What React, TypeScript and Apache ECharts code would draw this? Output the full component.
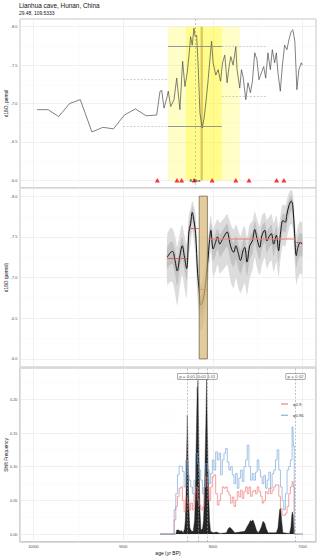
import React, { useEffect, useRef } from 'react';
import * as echarts from 'echarts';

const chartTitle = 'Lianhua cave, Hunan, China';
const chartSubtitle = '29.48, 109.5333';

// ---------- Panel 1: raw record ----------
const rawAges = [9959, 9837, 9719, 9597, 9478, 9348, 9226, 9108, 8986, 8863, 8744, 8626,
  8589, 8570, 8544, 8514, 8497, 8470, 8433, 8403, 8367, 8337, 8311, 8286, 8263, 8248, 8230, 8211,
  8197, 8181, 8163, 8144, 8119, 8100, 8078, 8052, 8033, 8014, 7997, 7967, 7941, 7914, 7892, 7867,
  7841, 7819, 7800, 7774, 7744, 7730, 7700, 7681, 7663, 7633, 7608, 7581, 7559, 7533, 7508, 7486,
  7459, 7433, 7411, 7386, 7359, 7337, 7311, 7292, 7274, 7248, 7226, 7200, 7174, 7152, 7126, 7108,
  7086, 7063, 7041, 7014, 7003];
const rawD18O = [-6.92, -6.92, -6.83, -7.0, -7.05, -6.63, -6.69, -6.67, -6.85, -6.93, -6.84, -6.85,
  -7.16, -7.17, -6.94, -7.07, -7.16, -6.96, -7.05, -7.33, -6.92, -7.55, -7.22, -7.4, -7.66, -7.87, -7.76, -7.98,
  -7.87, -7.89, -7.48, -6.88, -6.68, -6.79, -7.01, -7.31, -7.57, -7.81, -7.53, -7.37, -7.44, -7.29, -7.53, -7.63,
  -7.27, -7.48, -7.61, -7.5, -7.74, -7.44, -7.2, -7.44, -7.35, -7.05, -7.27, -7.14, -7.29, -7.66, -7.57, -7.31,
  -7.4, -7.48, -7.33, -7.66, -7.44, -7.7, -7.53, -7.66, -7.4, -7.16, -7.48, -7.76, -7.7, -7.83, -7.94, -7.96,
  -7.81, -7.18, -7.44, -7.53, -7.5];
const dateAges = [8619, 8400, 8348, 8208, 8008, 7744, 7597, 7289, 7208];
const dateLevel = -6.0;
const eventAge = 8200;
const eventLabel = '8.2ka';
const windowStarts = [8500, 8300, 8137];
const windowEnds = [7700, 7900, 8111];
const envStart = [9000, 9000, 8500, 8500, 7900, 7900];
const envEnd = [8500, 8500, 7900, 7900, 7400, 7400];
const envLevel = [-7.32, -6.7, -7.75, -6.7, -7.75, -7.09];
const envSolid = [false, false, true, true, false, false];

// ---------- Panel 2: smoothed ensemble ----------
const smoothAges = [8508, 8470, 8448, 8422, 8397, 8367, 8341, 8319, 8292, 8267, 8248, 8230, 8211, 8192, 8170, 8152,
  8137, 8114, 8089, 8070, 8052, 8041, 8022, 7997, 7970, 7948, 7922, 7897, 7867, 7841, 7811, 7792, 7767, 7744,
  7719, 7692, 7663, 7644, 7619, 7589, 7559, 7533, 7508, 7478, 7452, 7422, 7397, 7374, 7348, 7322, 7292, 7267,
  7244, 7219, 7192, 7174, 7152, 7126, 7108, 7089, 7070, 7052, 7026, 7003];
const smoothD18O = [-7.25, -7.31, -7.32, -7.21, -7.08, -7.27, -7.39, -7.27, -7.11, -7.56, -7.66, -7.8, -7.7, -7.54,
  -7.05, -6.85, -6.66, -6.7, -6.85, -7.05, -7.25, -7.41, -7.58, -7.35, -7.43, -7.5, -7.41, -7.46, -7.52, -7.56,
  -7.43, -7.35, -7.31, -7.39, -7.31, -7.21, -7.33, -7.37, -7.19, -7.39, -7.45, -7.59, -7.48, -7.37, -7.52, -7.58,
  -7.45, -7.5, -7.54, -7.41, -7.52, -7.33, -7.56, -7.7, -7.68, -7.78, -7.88, -7.94, -7.88, -7.54, -7.27, -7.37,
  -7.43, -7.41];
const outerUp = [0.28, 0.3, 0.28, 0.3, 0.3, 0.28, 0.26, 0.26, 0.3, 0.22, 0.18, 0.14, 0.18, 0.22, 0.25, 0.25, 0.25,
  0.25, 0.25, 0.25, 0.22, 0.2, 0.18, 0.24, 0.24, 0.22, 0.26, 0.24, 0.22, 0.22, 0.26, 0.28, 0.28, 0.26, 0.28, 0.3,
  0.28, 0.26, 0.3, 0.26, 0.24, 0.22, 0.24, 0.26, 0.24, 0.22, 0.26, 0.24, 0.24, 0.26, 0.24, 0.28, 0.22, 0.2, 0.2,
  0.18, 0.16, 0.14, 0.16, 0.22, 0.26, 0.26, 0.26, 0.26];
const outerDown = [0.34, 0.36, 0.38, 0.4, 0.42, 0.38, 0.36, 0.38, 0.36, 0.28, 0.26, 0.23, 0.26, 0.3, 0.32, 0.32, 0.32,
  0.32, 0.32, 0.32, 0.3, 0.28, 0.26, 0.34, 0.36, 0.34, 0.36, 0.38, 0.4, 0.4, 0.42, 0.44, 0.44, 0.4, 0.42, 0.4, 0.44,
  0.44, 0.4, 0.4, 0.36, 0.34, 0.36, 0.34, 0.36, 0.34, 0.34, 0.33, 0.33, 0.34, 0.33, 0.32, 0.32, 0.3, 0.3, 0.3, 0.28,
  0.28, 0.28, 0.32, 0.36, 0.38, 0.38, 0.38];
const innerUp = [0.12, 0.13, 0.12, 0.13, 0.13, 0.12, 0.11, 0.11, 0.13, 0.1, 0.08, 0.07, 0.08, 0.1, 0.11, 0.11, 0.11,
  0.11, 0.11, 0.11, 0.1, 0.09, 0.08, 0.11, 0.11, 0.1, 0.12, 0.11, 0.1, 0.1, 0.12, 0.12, 0.12, 0.12, 0.12, 0.13,
  0.12, 0.12, 0.13, 0.12, 0.11, 0.1, 0.11, 0.12, 0.11, 0.1, 0.12, 0.11, 0.11, 0.12, 0.11, 0.12, 0.1, 0.09, 0.09,
  0.08, 0.07, 0.07, 0.07, 0.1, 0.12, 0.12, 0.12, 0.12];
const innerDown = [0.14, 0.15, 0.16, 0.17, 0.18, 0.16, 0.15, 0.16, 0.15, 0.11, 0.1, 0.09, 0.1, 0.12, 0.13, 0.13, 0.13,
  0.13, 0.13, 0.13, 0.12, 0.11, 0.1, 0.15, 0.16, 0.15, 0.16, 0.17, 0.18, 0.18, 0.18, 0.18, 0.18, 0.17, 0.18, 0.17,
  0.18, 0.18, 0.17, 0.17, 0.16, 0.15, 0.16, 0.15, 0.16, 0.15, 0.15, 0.14, 0.14, 0.15, 0.14, 0.14, 0.14, 0.13, 0.13,
  0.13, 0.12, 0.12, 0.12, 0.14, 0.15, 0.16, 0.16, 0.16];
const segStart = [8508, 8270, 8155, 8057, 7070];
const segEnd = [8290, 8158, 8063, 7080, 7003];
const segLevel = [-7.24, -7.61, -6.85, -7.48, -7.43];
const eventRectStart = [8152];
const eventRectEnd = [8061];

// ---------- Panel 3: shift frequency ----------
const freqAges = [8589, 8441, 8422, 8404, 8385, 8367, 8348, 8330, 8311, 8293, 8274, 8256, 8237, 8219, 8200, 8182,
  8163, 8144, 8126, 8107, 8089, 8070, 8052, 8033, 8015, 7996, 7978, 7959, 7941, 7922, 7904, 7885, 7867, 7848, 7830,
  7811, 7793, 7774, 7756, 7737, 7719, 7700, 7681, 7663, 7644, 7626, 7607, 7589, 7570, 7552, 7533, 7515, 7496, 7478,
  7459, 7441, 7422, 7404, 7385, 7367, 7348, 7330, 7311, 7293, 7274, 7256, 7237, 7219, 7200, 7182, 7163, 7145, 7126,
  7107, 7096, 7089, 6996];
const q95 = [0, 0, 0.036, 0.06, 0.088, 0.101, 0.1, 0.093, 0.07, 0.11, 0.088, 0.08, 0.07, 0.06, 0.08, 0.12, 0.105,
  0.095, 0.08, 0.06, 0.07, 0.105, 0.095, 0.075, 0.09, 0.11, 0.095, 0.122, 0.11, 0.12, 0.088, 0.11, 0.12, 0.127,
  0.107, 0.095, 0.1, 0.088, 0.075, 0.09, 0.068, 0.083, 0.095, 0.078, 0.1, 0.11, 0.132, 0.1, 0.08, 0.09, 0.08, 0.092,
  0.11, 0.095, 0.085, 0.075, 0.087, 0.068, 0.08, 0.092, 0.068, 0.09, 0.095, 0.11, 0.125, 0.095, 0.07, 0.05, 0.036,
  0.06, 0.095, 0.1, 0.11, 0.159, 0.13, 0, 0];
const q90 = [0, 0, 0.021, 0.041, 0.056, 0.068, 0.07, 0.05, 0.033, 0.055, 0.046, 0.036, 0.046, 0.036, 0.06, 0.07,
  0.05, 0.043, 0.036, 0.04, 0.07, 0.085, 0.07, 0.05, 0.07, 0.085, 0.088, 0.06, 0.043, 0.05, 0.06, 0.07, 0.068, 0.07,
  0.063, 0.058, 0.046, 0.055, 0.041, 0.05, 0.063, 0.055, 0.065, 0.053, 0.063, 0.07, 0.06, 0.07, 0.056, 0.063, 0.065,
  0.06, 0.07, 0.063, 0.056, 0.046, 0.05, 0.063, 0.06, 0.068, 0.06, 0.065, 0.07, 0.073, 0.073, 0.056, 0.038, 0.028,
  0.028, 0.031, 0.041, 0.06, 0.07, 0.078, 0.07, 0, 0];
const histAges = [8589, 8411, 8404, 8378, 8367, 8348, 8330, 8315, 8307, 8300, 8293, 8285, 8281, 8278, 8270, 8263,
  8256, 8237, 8219, 8204, 8196, 8189, 8182, 8174, 8170, 8167, 8159, 8152, 8144, 8133, 8115, 8104, 8096, 8089, 8082,
  8078, 8070, 8067, 8063, 8056, 8052, 8044, 8037, 8026, 7996, 7959, 7922, 7848, 7830, 7811, 7793, 7774, 7756, 7700,
  7644, 7618, 7596, 7581, 7570, 7552, 7533, 7515, 7496, 7478, 7459, 7441, 7422, 7404, 7385, 7293, 7274, 7263, 7256,
  7244, 7233, 7219, 7145, 7130, 7122, 7115, 7104, 7096, 7089];
const histFreq = [0, 0, 0.006, 0.006, 0.004, 0.005, 0.002, 0.008, 0.02, 0.05, 0.11, 0.176, 0.15, 0.13, 0.06, 0.026,
  0.009, 0.004, 0.004, 0.02, 0.05, 0.11, 0.16, 0.218, 0.2, 0.228, 0.16, 0.095, 0.036, 0.006, 0.008, 0.02, 0.05,
  0.09, 0.14, 0.164, 0.23, 0.2, 0.164, 0.12, 0.09, 0.05, 0.02, 0.004, 0.002, 0.003, 0.001, 0.002, 0.008, 0.01,
  0.008, 0.005, 0.002, 0.003, 0.004, 0.011, 0.016, 0.02, 0.019, 0.021, 0.014, 0.006, 0.002, 0.005, 0.011, 0.019,
  0.016, 0.008, 0.002, 0.002, 0.009, 0.025, 0.036, 0.038, 0.02, 0.002, 0.001, 0.01, 0.025, 0.033, 0.028, 0.01, 0];
const changeAges = [8286, 8163, 8059, 7078];
const changeP = ['0.01', '0.01', '0.01', '0.02'];
const pLabelLevel = 0.234;

const FONT = 'Liberation Sans, Arial, sans-serif';
const Q90_COLOR = 'rgba(240,110,110,0.8)';
const Q95_COLOR = 'rgba(110,160,215,0.8)';

function xAxisFor(gridIndex: number, showLabels: boolean): any {
  return {
    type: 'value', gridIndex, inverse: true, min: 6850, max: 10150, splitNumber: 3,
    axisLine: { show: false }, axisTick: { show: false },
    axisLabel: {
      show: showLabels, fontSize: 3.8, color: '#4d4d4d', margin: 2.5, fontFamily: FONT,
      showMinLabel: false, showMaxLabel: false,
      formatter: (v: number) => (Math.abs(v % 1000) < 1e-6 ? String(v) : ''),
    },
    splitLine: { show: true, lineStyle: { color: '#e6e6e6', width: 0.6 } },
    minorTick: { show: false, splitNumber: 2 },
    minorSplitLine: { show: true, lineStyle: { color: '#f3f3f3', width: 0.4 } },
    name: showLabels ? 'age (yr BP)' : '',
    nameLocation: 'middle', nameGap: 8.5, nameMoveOverlap: false,
    nameTextStyle: { fontSize: 5, color: '#111', fontFamily: FONT },
  };
}

function yAxisFor(gridIndex: number, min: number, max: number, step: number, splitNumber: number, inverse: boolean, name: string, digits: number): any {
  return {
    type: 'value', gridIndex, inverse, min, max, splitNumber,
    axisLine: { show: false }, axisTick: { show: false },
    axisLabel: {
      fontSize: 3.9, color: '#4d4d4d', margin: 2.5, fontFamily: FONT,
      showMinLabel: false, showMaxLabel: false,
      formatter: (v: number) => {
        const k = v / step;
        return Math.abs(k - Math.round(k)) < 1e-6 ? v.toFixed(digits) : '';
      },
    },
    splitLine: { show: true, lineStyle: { color: '#e6e6e6', width: 0.6 } },
    minorTick: { show: false, splitNumber: 2 },
    minorSplitLine: { show: true, lineStyle: { color: '#f3f3f3', width: 0.4 } },
    name, nameLocation: 'middle', nameGap: 11.5, nameMoveOverlap: false,
    nameTextStyle: { fontSize: 4.8, color: '#111', fontFamily: FONT },
  };
}

function rectSeries(xi: number, yi: number, starts: number[], ends: number[], top: number, bottom: number,
  fills: string[], strokes: string[] | null, z: number): any {
  return {
    type: 'custom', xAxisIndex: xi, yAxisIndex: yi, z, silent: true, clip: true,
    data: starts.map((s, i) => [s, ends[i], top, bottom]),
    encode: { x: [0, 1], y: [2, 3] },
    renderItem: (params: any, api: any) => {
      const p1 = api.coord([api.value(0), api.value(2)]);
      const p2 = api.coord([api.value(1), api.value(3)]);
      return {
        type: 'rect',
        shape: { x: Math.min(p1[0], p2[0]), y: Math.min(p1[1], p2[1]), width: Math.abs(p2[0] - p1[0]), height: Math.abs(p2[1] - p1[1]) },
        style: { fill: fills[params.dataIndex], stroke: strokes ? strokes[params.dataIndex] : null, lineWidth: strokes ? 0.8 : 0 },
      };
    },
  };
}

function bandSeries(xi: number, yi: number, up: number[], down: number[], color: string, z: number): any {
  return {
    type: 'custom', xAxisIndex: xi, yAxisIndex: yi, z, silent: true, clip: true,
    data: [[smoothAges[0], smoothD18O[0]]],
    renderItem: (_p: any, api: any) => {
      const pts: number[][] = [];
      for (let i = 0; i < smoothAges.length; i++) pts.push(api.coord([smoothAges[i], smoothD18O[i] - (up[i] ?? 0.25)]));
      for (let i = smoothAges.length - 1; i >= 0; i--) pts.push(api.coord([smoothAges[i], smoothD18O[i] + (down[i] ?? 0.3)]));
      return { type: 'polygon', shape: { points: pts, smooth: 0.25 }, style: { fill: color } };
    },
  };
}

const gridBase = { left: 20, right: 4, show: true, backgroundColor: 'transparent', containLabel: false, outerBoundsMode: 'none' };

export default function App() {
  const ref = useRef<HTMLDivElement>(null);
  useEffect(() => {
    if (!ref.current) return;
    const chart = echarts.init(ref.current, null, { renderer: 'svg' });

    const envLines = envStart.map((s, i) => [
      { coord: [s, envLevel[i]], lineStyle: envSolid[i]
        ? { color: '#8c8c8c', width: 0.9, type: 'solid' }
        : { color: '#b0b0b0', width: 0.6, type: [2, 1.5] } },
      { coord: [envEnd[i], envLevel[i]] },
    ]);
    const segColors = ['#e04848', '#e04848', '#e04848', 'rgba(240,130,130,0.75)', '#e04848'];
    const segWidths = [0.8, 0.8, 0.8, 1.6, 0.8];
    const segLines = segStart.map((s, i) => [
      { coord: [s, segLevel[i]], lineStyle: { color: segColors[i], width: segWidths[i], type: 'solid' } },
      { coord: [segEnd[i], segLevel[i]] },
    ]);
    const pIdx = changeAges.map((_, i) => i).reverse();

    const option: any = {
      animation: false,
      textStyle: { fontFamily: FONT },
      title: {
        text: chartTitle, subtext: chartSubtitle, left: 19, top: 2, padding: 0, itemGap: 2.5,
        textStyle: { fontSize: 6.4, fontWeight: 'normal', color: '#111', fontFamily: FONT },
        subtextStyle: { fontSize: 4.9, color: '#111', fontFamily: FONT },
      },
      legend: {
        data: [
          { name: 'q0.9', icon: 'rect', itemStyle: { color: '#f08a8a', opacity: 1 } },
          { name: 'q0.95', icon: 'rect', itemStyle: { color: '#93b8e0', opacity: 1 } },
        ],
        orient: 'vertical', left: 276, top: 397,
        itemWidth: 7, itemHeight: 1.3, itemGap: 7.3,
        textStyle: { fontSize: 4.3, color: '#333', fontFamily: FONT },
      },
      grid: [
        { ...gridBase, top: 19, height: 169, borderColor: '#c2c2c2', borderWidth: 1 },
        { ...gridBase, top: 188, height: 179, borderColor: '#c2c2c2', borderWidth: 1 },
        { ...gridBase, top: 368, height: 174, borderColor: '#bdbdbd', borderWidth: 1.3 },
      ],
      xAxis: [xAxisFor(0, false), xAxisFor(1, false), xAxisFor(2, true)],
      yAxis: [
        yAxisFor(0, -8.1, -5.9, 0.5, 4, true, 'd18O, permil', 1),
        yAxisFor(1, -8.1, -5.9, 0.5, 4, true, 'd18O (permil)', 1),
        yAxisFor(2, -0.0118, 0.2465, 0.05, 5, false, 'Shift Frequency', 2),
      ],
      series: [
        // ---- panel 1 ----
        rectSeries(0, 0, windowStarts, windowEnds, -8, -6,
          ['rgba(255,250,0,0.22)', 'rgba(255,250,0,0.3)', 'rgba(190,150,50,0.5)'], null, 1),
        {
          type: 'line', xAxisIndex: 0, yAxisIndex: 0, z: 3,
          data: rawAges.map((a, i) => [a, rawD18O[i]]),
          symbol: 'none', lineStyle: { color: '#4a4a4a', width: 0.7 },
          markLine: {
            silent: true, symbol: ['none', 'none'], label: { show: false },
            data: [...envLines, { xAxis: eventAge, lineStyle: { color: '#a0a0a0', width: 0.6, type: [2, 2] } }],
          },
        },
        {
          type: 'scatter', xAxisIndex: 0, yAxisIndex: 0, z: 5,
          data: dateAges.map((a) => [a, dateLevel]),
          symbol: 'triangle', symbolSize: [5, 4.5], itemStyle: { color: '#ff0000' },
        },
        {
          type: 'scatter', xAxisIndex: 0, yAxisIndex: 0, z: 6,
          data: [[eventAge, dateLevel]], symbolSize: 1, itemStyle: { color: 'rgba(0,0,0,0)' },
          label: { show: true, position: 'inside', formatter: eventLabel, fontSize: 4.3, fontWeight: 'bold', color: '#222', fontFamily: FONT },
        },
        // ---- panel 2 ----
        bandSeries(1, 1, outerUp, outerDown, '#dcdcdc', 1),
        bandSeries(1, 1, innerUp, innerDown, '#c2c2c2', 2),
        {
          type: 'line', xAxisIndex: 1, yAxisIndex: 1, z: 3,
          data: smoothAges.map((a, i) => [a, smoothD18O[i]]),
          symbol: 'none', smooth: 0.35, lineStyle: { color: '#111', width: 1 },
          markLine: { silent: true, symbol: ['none', 'none'], label: { show: false }, data: segLines },
        },
        rectSeries(1, 1, eventRectStart, eventRectEnd, -8, -6, ['rgba(215,185,120,0.72)'], ['#7a6a48'], 8),
        // ---- panel 3 ----
        {
          type: 'line', xAxisIndex: 2, yAxisIndex: 2, z: 2,
          data: histAges.map((a, i) => [a, histFreq[i]]),
          symbol: 'none', lineStyle: { color: '#222', width: 0.4 },
          areaStyle: { color: '#262626', opacity: 1 },
          markLine: {
            silent: true, symbol: ['none', 'none'], label: { show: false },
            data: changeAges.map((a) => ({ xAxis: a, lineStyle: { color: '#9a9a9a', width: 0.6, type: [2, 1.5] } })),
          },
        },
        {
          name: 'q0.9', type: 'line', xAxisIndex: 2, yAxisIndex: 2, z: 3, step: 'middle',
          data: freqAges.map((a, i) => [a, q90[i]]), symbol: 'none',
          lineStyle: { color: Q90_COLOR, width: 0.8 }, itemStyle: { color: Q90_COLOR },
        },
        {
          name: 'q0.95', type: 'line', xAxisIndex: 2, yAxisIndex: 2, z: 3, step: 'middle',
          data: freqAges.map((a, i) => [a, q95[i]]), symbol: 'none',
          lineStyle: { color: Q95_COLOR, width: 0.8 }, itemStyle: { color: Q95_COLOR },
        },
        {
          type: 'scatter', xAxisIndex: 2, yAxisIndex: 2, z: 10,
          data: pIdx.map((i) => ({ value: [changeAges[i], pLabelLevel], p: changeP[i] })),
          symbolSize: 1, itemStyle: { color: 'rgba(0,0,0,0)' },
          label: {
            show: true, position: 'inside', fontSize: 4.4, color: '#222', fontFamily: FONT,
            formatter: (p: any) => 'p = ' + p.data.p,
            backgroundColor: '#ffffff', borderColor: '#555', borderWidth: 0.5, padding: [1.2, 1.5, 0.6, 1.5],
          },
        },
      ],
    };
    chart.setOption(option);
    return () => chart.dispose();
  }, []);
  return <div ref={ref} style={{ position: 'absolute', left: 0, top: 0, width: 320, height: 559 }} />;
}
